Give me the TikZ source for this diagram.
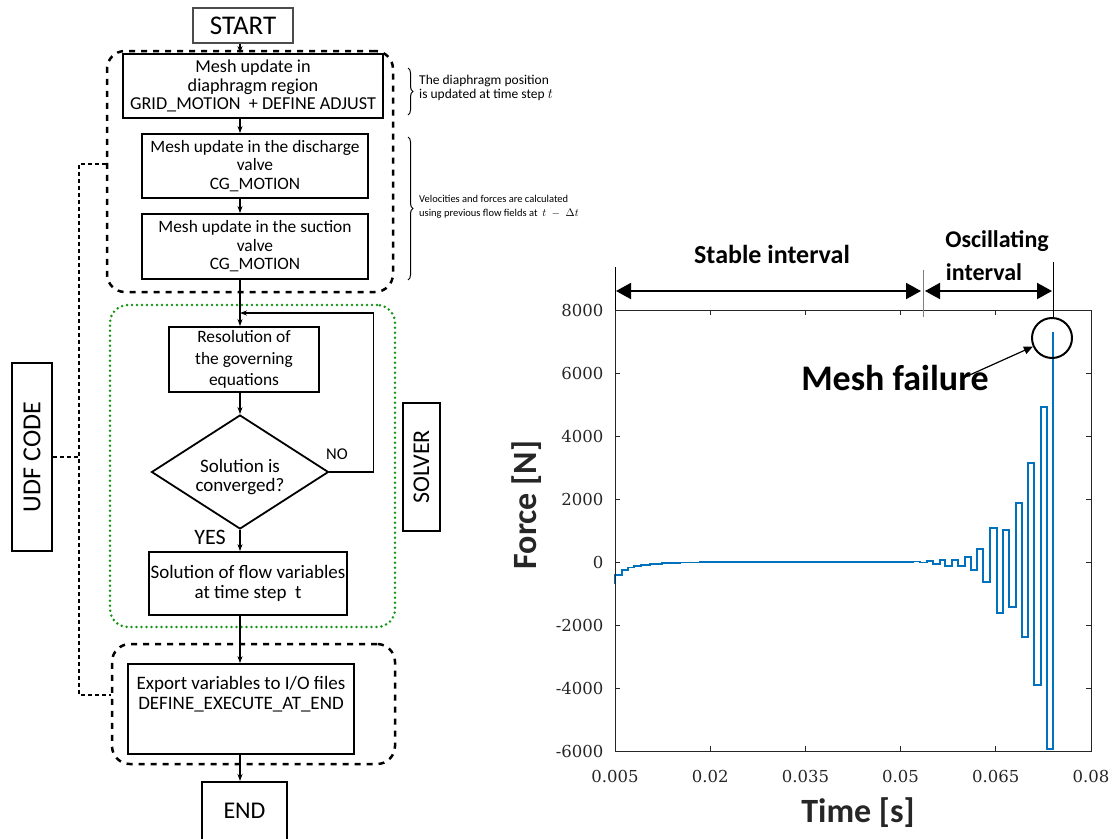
\documentclass[tikz,border=0pt]{standalone}
\usepackage{fontspec}
\setmainfont{Carlito}
\newfontfamily\tickfont{DejaVu Serif}
\usetikzlibrary{arrows.meta,shapes.geometric,decorations.pathreplacing}
\definecolor{mblue}{RGB}{0,114,189}
\definecolor{axgray}{RGB}{38,38,38}
\definecolor{dgreen}{RGB}{20,150,20}
\begin{document}
\begin{tikzpicture}[x=1pt,y=-1pt,
  box/.style={draw,line width=1.8pt,inner sep=0pt,align=center,font=\fontsize{17.4}{18.5}\selectfont},
  termbox/.style={draw,line width=1.1pt,inner sep=0pt,align=center},
  grpbox/.style={draw,line width=2.5pt,dash pattern=on 6pt off 6pt,rounded corners=18pt,inner sep=0pt},
  solvgrp/.style={draw=dgreen,line width=2.8pt,dash pattern=on 0pt off 5pt,line cap=round,rounded corners=18pt,inner sep=0pt},
  arr/.style={line width=1.6pt,-{Stealth[length=7pt,width=5pt]}},
  udfline/.style={line width=2pt,dash pattern=on 4pt off 3pt},
  sidebox/.style={draw,line width=2pt,inner sep=0pt},
  brc/.style={decorate,decoration={brace,amplitude=5pt},line width=1pt},
  note/.style={anchor=west,align=left,inner sep=0pt},
  ival/.style={line width=2pt,{Triangle[length=15pt,width=16pt]}-{Triangle[length=15pt,width=16pt]}},
  lbl/.style={font=\bfseries\fontsize{24}{28}\selectfont},
  tick/.style={font=\tickfont\fontsize{16.5}{19}\selectfont,text=axgray},
]
\useasboundingbox (0,0) rectangle (1118,838);
\coordinate (sp) at (240,0);

% ---------- flowchart ----------
\node[termbox,draw=gray!60!black,minimum width=100pt,minimum height=35pt,font=\fontsize{27}{30}\selectfont] (start) at (243,25.5) {START};

\node[grpbox,minimum width=286pt,minimum height=241pt] (grp1) at (250,171.5) {};
\node[solvgrp,minimum width=285pt,minimum height=322pt] (grp2) at (252.5,466) {};
\node[grpbox,minimum width=283pt,minimum height=120pt] (grp3) at (253.5,704) {};

\node[box,minimum width=260pt,minimum height=64pt,font=\fontsize{18.2}{18.5}\selectfont] (b1) at (253,86) {Mesh update in\\diaphragm region\\GRID\_MOTION\ \ + DEFINE ADJUST};
\node[box,minimum width=226pt,minimum height=64pt] (b2) at (255,166) {Mesh update in the discharge\\valve\\CG\_MOTION};
\node[box,minimum width=226pt,minimum height=65pt] (b3) at (255,246.5) {Mesh update in the suction\\valve\\CG\_MOTION};

\node[box,minimum width=150pt,minimum height=65pt,font=\fontsize{17.4}{21.5}\selectfont] (res) at (244,359.5) {Resolution of\\the governing\\equations};
\node[diamond,draw,line width=1.8pt,inner sep=0pt,aspect=1.55,minimum width=177pt,minimum height=114pt,
  label={[align=center,yshift=-5pt,font=\fontsize{19}{19.5}\selectfont]center:Solution is\\converged?}] (dia) at (240,472) {};
\node[box,minimum width=198pt,minimum height=63pt,font=\fontsize{19}{20}\selectfont] (sol) at (248,583.5) {Solution of flow variables\\at time step\ \ t};

\node[box,minimum width=226pt,minimum height=90pt,
  label={[anchor=north,align=center,yshift=-10pt,font=\fontsize{19}{19.5}\selectfont]north:Export variables to I/O files\\DEFINE\_EXECUTE\_AT\_END}] (exp) at (241,709) {};
\node[box,minimum width=85pt,minimum height=70pt,anchor=north,font=\fontsize{24}{28}\selectfont,text depth=0pt] (endb) at (244.5,781) {\raisebox{12pt}{END}};

\node[font=\fontsize{16.5}{19}\selectfont] (no) at (337,454) {NO};
\node[font=\fontsize{22}{26}\selectfont] (yes) at (210,537) {YES};

\coordinate (loopin) at (240,313);
\draw[arr] (start.south -| sp) -- (b1.north -| sp);
\draw[arr] (b1.south -| sp) -- (b2.north -| sp);
\draw[arr] (b2.south -| sp) -- (b3.north -| sp);
\draw[arr] (b3.south -| sp) -- (res.north -| sp);
\draw[arr] (res.south -| sp) -- (dia.north);
\draw[arr] (dia.south) -- (sol.north -| dia.south);
\draw[arr] (dia.east) -- ++(44,0) |- (loopin);
\draw[arr] (sol.south -| sp) -- (exp.north -| sp);
\draw[arr] (exp.south -| sp) -- (endb.north -| sp);

% side boxes
\node[sidebox,minimum width=40pt,minimum height=188pt] (udf) at (32,457) {};
\node[rotate=90,font=\fontsize{26}{30}\selectfont] at (udf.center) {UDF CODE};
\node[sidebox,minimum width=37pt,minimum height=128pt] (solver) at (421.5,467) {};
\node[rotate=90,font=\fontsize{24}{28}\selectfont] at (solver.center) {SOLVER};

\coordinate (t1) at (79,164);
\coordinate (t2) at (79,695);
\draw[udfline] (udf.east) -- (udf.east -| t1);
\draw[udfline] (grp1.west |- t1) -- (t1) -- (t2) -- (grp3.west |- t2);

% braces and notes
\draw[brc] (408,68) -- (408,115);
\node[note,font=\fontsize{13.5}{14.5}\selectfont] (n1) at (419,88) {The diaphragm position\\is updated at time step $t$};
\draw[brc] (408,137) -- (408,280);
\node[note,font=\fontsize{10.5}{14}\selectfont] (n2) at (419,207) {Velocities and forces are calculated\\using previous flow fields at\ \ $t\;-\;\Delta t$};

% ---------- plot ----------
\draw[mblue,line width=1.5pt,line join=miter]
 (615,584) -- (615,575) -- (622,575) -- (622,570) -- (628,570) -- (628,567.5) -- (634,567.5) -- (634,566)
 -- (641,566) -- (641,565) -- (650,565) -- (650,564) -- (662,564) -- (662,563) -- (680,563) -- (680,562.5)
 -- (700,562.5) -- (700,562) -- (913,562) -- (913,561.5) -- (920,561.5) -- (920,562.5) -- (927,562.5)
 -- (927,561) -- (933,561) -- (933,564) -- (940,564) -- (940,560) -- (945,560) -- (945,566) -- (952,566)
 -- (952,560) -- (958,560) -- (958,566) -- (965,566) -- (965,557) -- (971,557) -- (971,570) -- (977,570)
 -- (977,549) -- (983,549) -- (983,582) -- (990,582) -- (990,528) -- (997,528) -- (997,613) -- (1003,613)
 -- (1003,530) -- (1009,530) -- (1009,607) -- (1016,607) -- (1016,503) -- (1022,503) -- (1022,637)
 -- (1028,637) -- (1028,463) -- (1034,463) -- (1034,685) -- (1041,685) -- (1041,407) -- (1047,407)
 -- (1047,749) -- (1053,749) -- (1053,332);

\draw[axgray,line width=0.9pt] (615,310) rectangle (1091,751);
\foreach \yy/\lab in {310/8000,373/6000,436/4000,499/2000,562/0,625/-2000,688/-4000,751/-6000}{
  \draw[axgray,line width=0.9pt] (615,\yy) -- ++(5,0);
  \draw[axgray,line width=0.9pt] (1091,\yy) -- ++(-5,0);
  \node[tick,anchor=east] at (607,\yy) {\lab};
}
\foreach \xx/\lab in {615/0.005,710.2/0.02,805.4/0.035,900.6/0.05,995.8/0.065,1091/0.08}{
  \draw[axgray,line width=0.9pt] (\xx,751) -- ++(0,-5);
  \draw[axgray,line width=0.9pt] (\xx,310) -- ++(0,5);
  \node[tick] at (\xx,776) {\lab};
}
\node[rotate=90,font=\bfseries\fontsize{34}{40}\selectfont,text=axgray] (ylab) at (527,505) {Force [N]};
\node[anchor=base,font=\bfseries\fontsize{34}{40}\selectfont,text=axgray] (xlab) at (858,822) {Time [s]};

% interval markers
\coordinate (s0) at (615,267);
\coordinate (s1) at (923,270);
\coordinate (s2) at (1053,262);
\draw[line width=1pt] (s0) -- (615,310);
\draw[gray,line width=0.8pt] (s1) -- (923,317);
\draw[line width=1pt] (s2) -- (1053,317);
\coordinate (a0) at (616,291);
\coordinate (a1) at (921,291);
\coordinate (a2) at (925,291);
\coordinate (a3) at (1052,291);
\draw[ival] (a0) -- (a1);
\draw[ival] (a2) -- (a3);
\node[lbl,anchor=base,font=\bfseries\fontsize{26}{30}\selectfont] (stab) at (772,263) {Stable interval};
\node[lbl,anchor=base] (osc1) at (997,247) {Oscillating};
\node[lbl,anchor=base] (osc2) at (984,280) {interval};

% mesh failure
\node[draw,circle,line width=2pt,minimum size=40pt,inner sep=0pt] (circ) at (1052,338) {};
\node[anchor=base,font=\bfseries\fontsize{36}{40}\selectfont] (mf) at (895,390) {Mesh failure};
\coordinate (mfs) at (963,378);
\draw[line width=1.2pt,-{Triangle[length=9pt,width=8pt]}] (mfs) -- (circ);
\end{tikzpicture}
\end{document}
